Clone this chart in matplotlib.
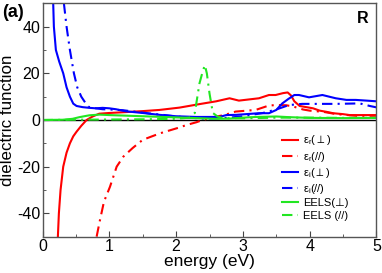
import matplotlib
matplotlib.use('Agg')
import matplotlib.pyplot as plt
from matplotlib.ticker import MultipleLocator

plt.rcParams['font.family'] = ['Liberation Sans', 'DejaVu Sans']
plt.rcParams['mathtext.fontset'] = 'custom'
plt.rcParams['mathtext.rm'] = 'Liberation Sans'
plt.rcParams['mathtext.it'] = 'Liberation Sans:italic'
plt.rcParams['mathtext.fallback'] = 'stixsans'
plt.rcParams['axes.unicode_minus'] = False

# eps_r (perp), solid red
er_perp_x = [0.23, 0.245, 0.27, 0.31, 0.36, 0.41, 0.46, 0.51, 0.58, 0.66, 0.75, 0.85, 1.0, 1.2,
             1.5, 1.75, 2.05, 2.35, 2.6, 2.8, 2.94, 3.24, 3.39, 3.49, 3.6, 3.67, 3.72, 3.77,
             3.85, 3.95, 4.05, 4.15, 4.25, 4.35, 4.5, 4.6, 5.0]
er_perp_y = [-50, -40, -30, -20, -14, -10, -7, -5, -2.5, 0, 1.5, 2.7, 3.0, 3.3,
             3.8, 4.3, 5.3, 6.8, 8.0, 9.3, 8.3, 9.3, 10.7, 10.7, 11.5, 11.8, 10.5, 8.0,
             6.0, 5.5, 5.0, 4.0, 3.5, 2.9, 2.5, 2.1, 2.1]

# eps_r (//), dash-dot red
er_par_x = [0.81, 0.86, 0.92, 1.01, 1.11, 1.21, 1.35, 1.5, 1.76, 2.05, 2.16, 2.3, 2.4, 2.55,
            2.72, 2.89, 3.19, 3.39, 3.51, 3.65, 3.75, 3.9, 4.0, 4.2, 4.4, 4.7, 5.0]
er_par_y = [-50, -42.9, -35, -28.6, -20, -15.7, -12, -8.5, -5.7, -3.2, -2.1, -1.0, 0, 1.2,
            2.1, 3.6, 4.3, 6.2, 6.4, 6.3, 5.8, 4.5, 4.0, 3.5, 2.5, 1.8, 1.8]

# eps_i (perp), solid blue
ei_perp_x = [0.16, 0.17, 0.2, 0.25, 0.31, 0.36, 0.41, 0.46, 0.51, 0.6, 0.7, 0.8, 0.9, 1.0,
             1.1, 1.25, 1.5, 1.75, 2.0, 2.3, 2.65, 2.75, 2.9, 3.24, 3.39, 3.5, 3.59, 3.68,
             3.77, 3.84, 3.99, 4.19, 4.39, 4.55, 4.69, 4.85, 5.0]
ei_perp_y = [50, 40, 30, 25, 20, 14, 10, 7, 6, 5.5, 5.2, 5.0, 5.2, 5.0,
             4.6, 3.7, 3.0, 2.2, 1.6, 1.3, 1.3, 2.1, 2.2, 2.9, 2.9, 4.3, 7.1, 9.0,
             10.7, 10.7, 9.7, 10.7, 9.3, 8.6, 8.6, 8.3, 8.0]

# eps_i (//), dash-dot blue
ei_par_x = [0.32, 0.36, 0.41, 0.47, 0.52, 0.58, 0.68, 0.8, 0.9, 1.0, 1.2, 1.4, 1.6, 1.8,
            2.0, 2.2, 2.4, 2.6, 2.8, 3.0, 3.3, 3.5, 3.69, 3.89, 4.39, 4.75, 4.9, 5.0]
ei_par_y = [50, 40, 30, 20, 14, 10, 5.7, 5.0, 4.6, 4.5, 4.2, 3.5, 2.8, 2.2,
            1.5, 1.0, 0.6, 0.6, 1.0, 1.6, 3.0, 4.5, 6.4, 6.9, 6.9, 7.1, 6.0, 5.4]

# EELS (perp), solid green
eels_perp_x = [0.0, 0.3, 0.45, 0.55, 0.7, 0.85, 1.0, 1.2, 1.4, 1.7, 2.0, 2.3, 2.6, 2.8,
               3.0, 3.2, 3.5, 3.7, 4.0, 4.5, 5.0]
eels_perp_y = [0.0, 0.1, 0.5, 1.2, 2.0, 2.3, 2.1, 1.9, 1.7, 1.4, 1.1, 0.8, 0.5, 0.6,
               1.0, 1.3, 1.5, 1.2, 0.9, 0.8, 0.9]

# EELS (//), dash-dot green
eels_par_x = [0.0, 0.5, 1.0, 1.5, 2.0, 2.2, 2.28, 2.35, 2.4, 2.43, 2.46, 2.5, 2.55, 2.62,
              2.7, 3.0, 3.5, 4.0, 4.5, 5.0]
eels_par_y = [0.0, 0.1, 0.2, 0.3, 0.5, 1.0, 3.0, 15.7, 21.0, 23.5, 20.0, 11.4, 3.0, 1.5,
              0.8, 0.7, 1.0, 1.0, 0.9, 0.9]

dashdot = (0, (5, 2.5, 1, 2.5))
green = '#22e622'

fig = plt.figure(figsize=(3.82, 2.73), dpi=100)
ax = fig.add_axes([0.1113, 0.133, 0.8743, 0.855])

ax.axhline(0, color='black', lw=1.0, zorder=1)
ax.plot(er_perp_x, er_perp_y, color='red', lw=1.5, label=r'ε$_\mathrm{r}(\perp)$')
ax.plot(er_par_x, er_par_y, color='red', lw=1.5, ls=dashdot, label=r'ε$_\mathrm{r}$(//)')
ax.plot(ei_perp_x, ei_perp_y, color='blue', lw=1.5, label=r'ε$_\mathrm{i}(\perp)$')
ax.plot(ei_par_x, ei_par_y, color='blue', lw=1.5, ls=dashdot, label=r'ε$_\mathrm{i}$(//)')
ax.plot(eels_perp_x, eels_perp_y, color=green, lw=1.5, label='EELS(⊥)')
ax.plot(eels_par_x, eels_par_y, color=green, lw=1.5, ls=dashdot, label='EELS (//)')

ax.set_xlim(0, 5)
ax.set_ylim(-50, 50)
ax.xaxis.set_major_locator(MultipleLocator(1))
ax.xaxis.set_minor_locator(MultipleLocator(0.5))
ax.yaxis.set_major_locator(MultipleLocator(20))
ax.yaxis.set_minor_locator(MultipleLocator(10))
ax.tick_params(which='both', direction='in', labelsize=11.5, color='#444444', pad=1.8)
ax.tick_params(which='major', length=4.5)
ax.tick_params(which='minor', length=2.5)
for s in ax.spines.values():
    s.set_color('#555555')
    s.set_linewidth(1.0)

ax.set_xlabel('energy (eV)', fontsize=12.5, labelpad=0)
ax.set_ylabel('dielectric function', fontsize=12.2)
ax.yaxis.set_label_coords(-0.082, 0.5)

leg = ax.legend(loc='lower left', bbox_to_anchor=(0.704, 0.05), frameon=False, fontsize=8,
                handlelength=1.45, handletextpad=0.45, labelspacing=0.2, borderaxespad=0)

fig.text(0.005, 0.985, '(a)', fontsize=13, fontweight='bold', va='top', ha='left')
ax.text(0.975, 0.965, 'R', transform=ax.transAxes, fontsize=11.5, fontweight='bold',
        va='top', ha='right')

fig.savefig('out.png', dpi=100)
